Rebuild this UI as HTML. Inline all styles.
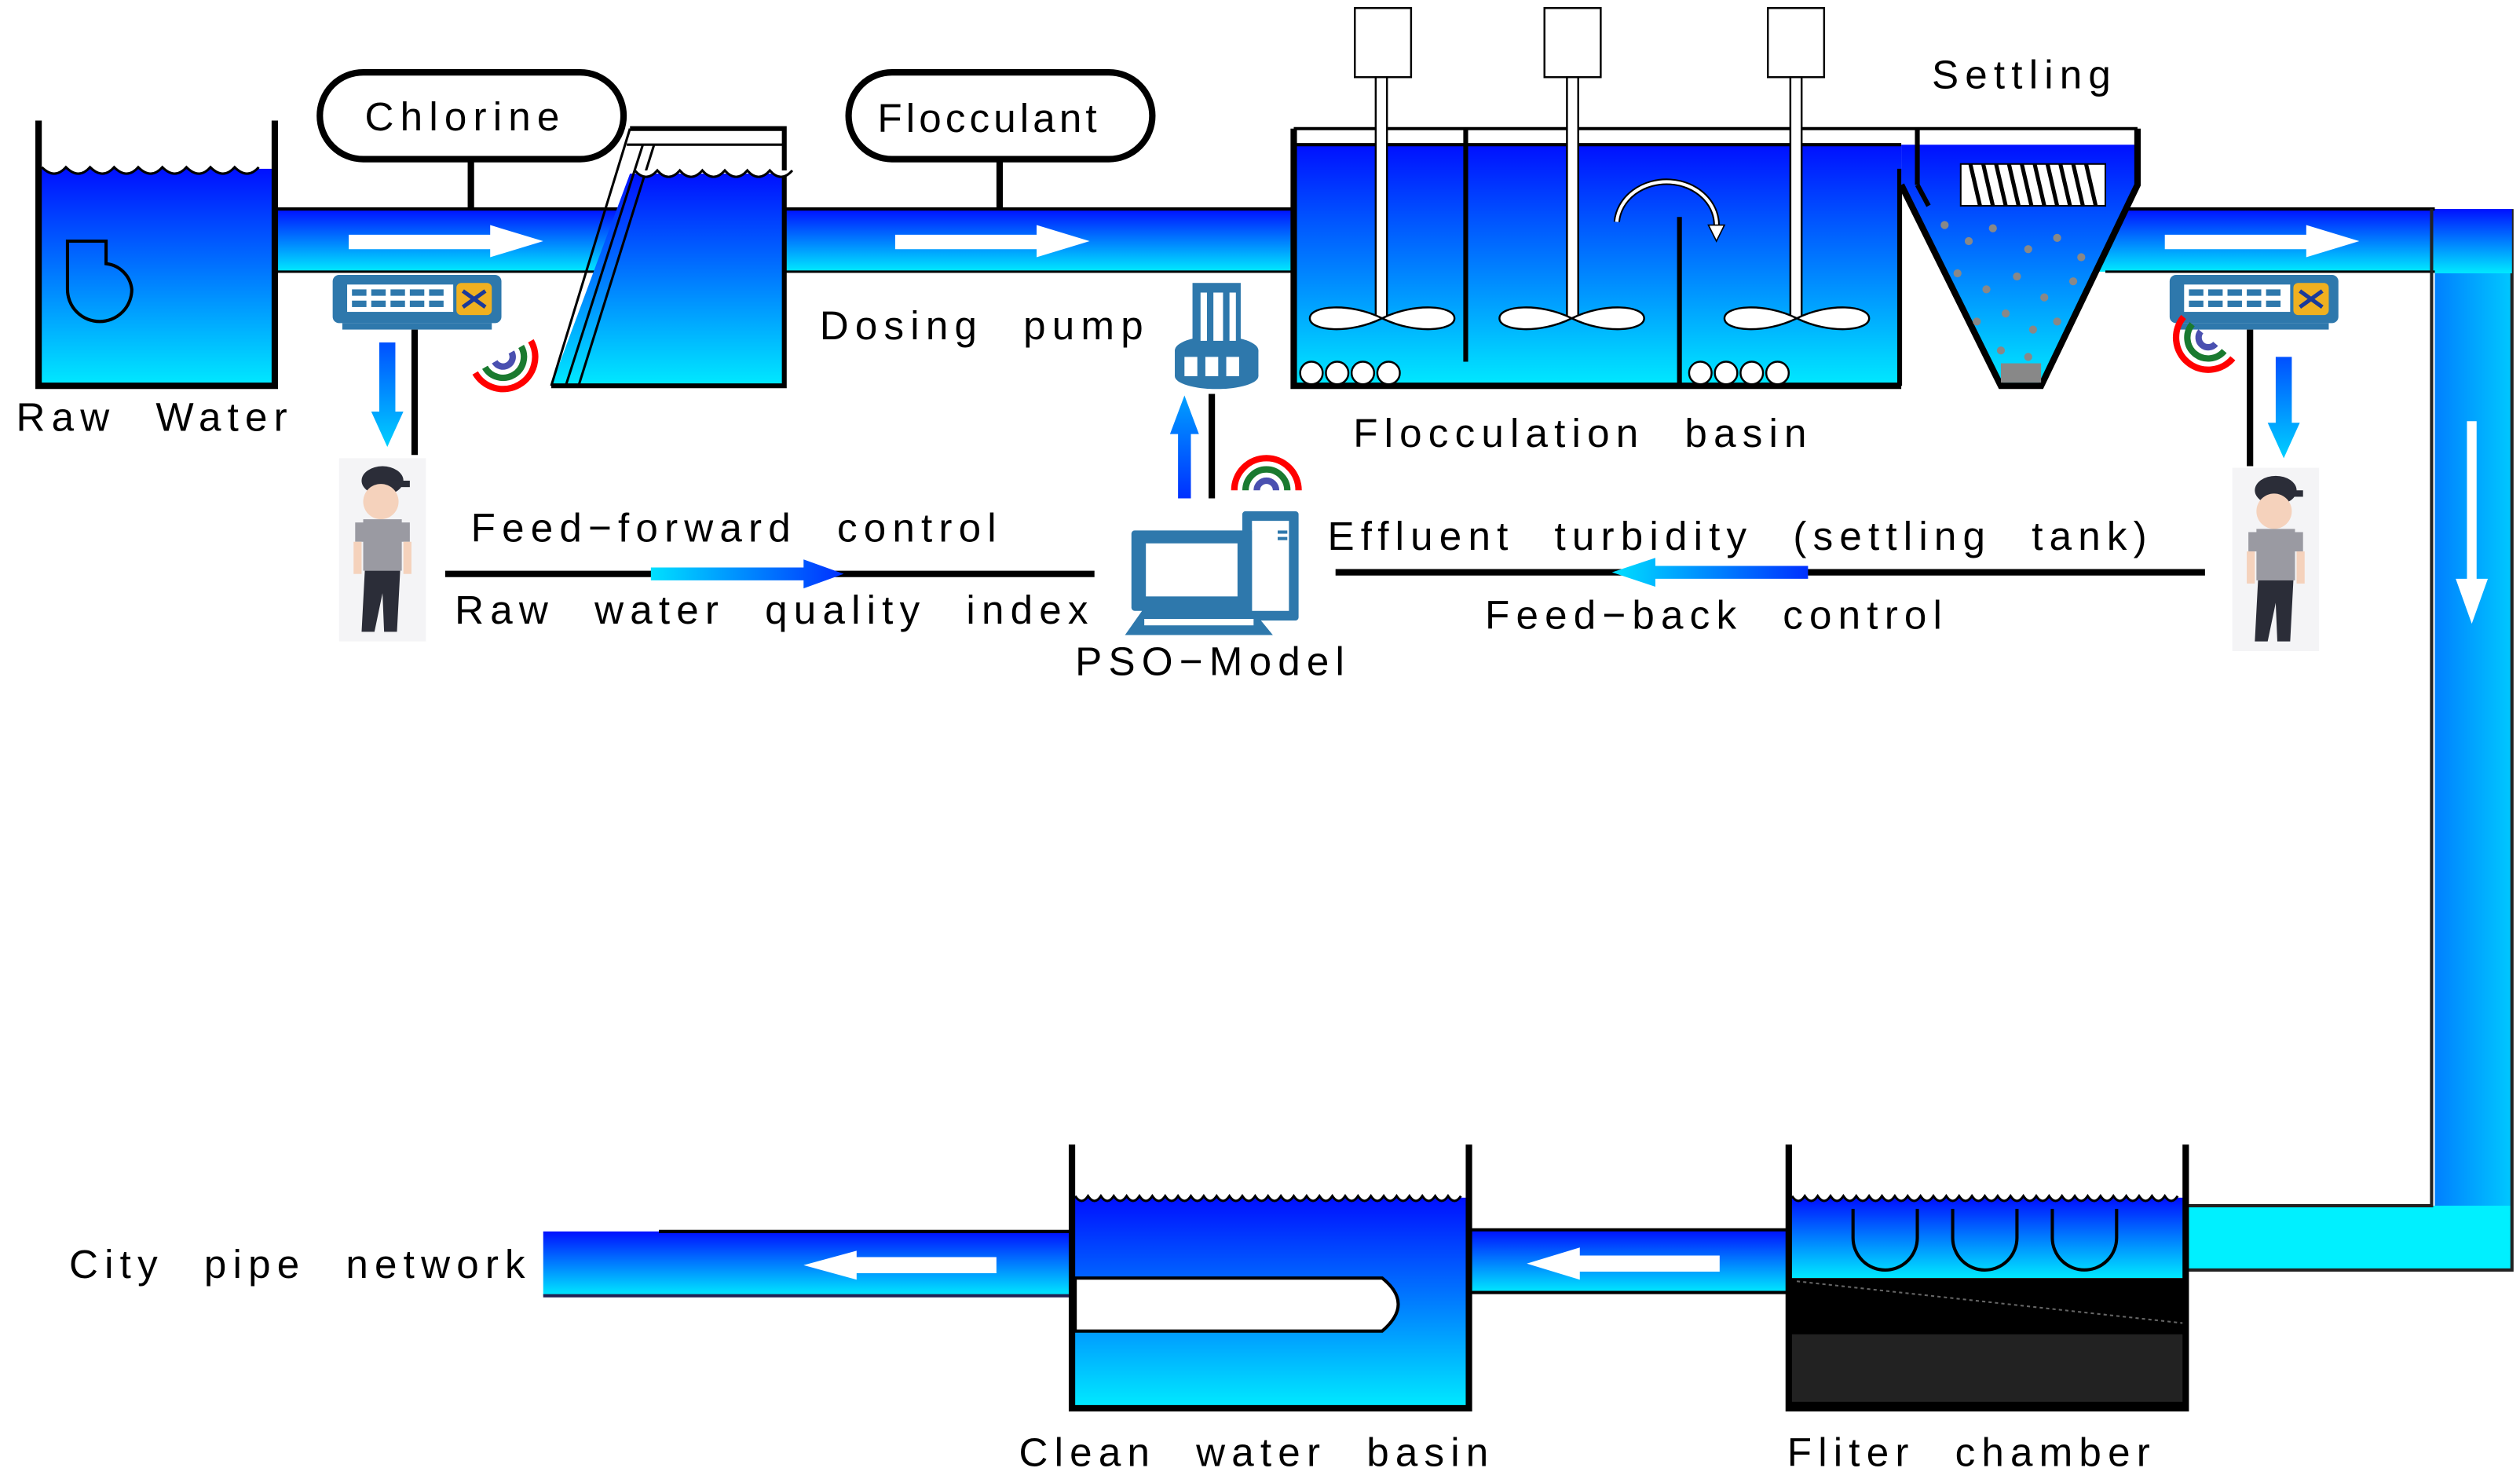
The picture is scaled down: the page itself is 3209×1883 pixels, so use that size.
<!DOCTYPE html>
<html><head><meta charset="utf-8"><style>
html,body{margin:0;padding:0;background:#fff;}
svg{display:block;}
text{font-family:"Liberation Sans",sans-serif;font-size:25px;fill:#000;letter-spacing:4px;word-spacing:14px;}
</style></head><body>
<svg width="3209" height="1883" viewBox="0 0 1568 920" preserveAspectRatio="none" xmlns="http://www.w3.org/2000/svg">
<defs>
<linearGradient id="w" x1="0" y1="0" x2="0" y2="1"><stop offset="0" stop-color="#0010ff"/><stop offset="1" stop-color="#00eaff"/></linearGradient>
<linearGradient id="wh" x1="0" y1="0" x2="1" y2="0"><stop offset="0" stop-color="#00e0ff"/><stop offset="1" stop-color="#0030ff"/></linearGradient>
<linearGradient id="wv" x1="0" y1="0" x2="1" y2="0"><stop offset="0" stop-color="#0080ff"/><stop offset="1" stop-color="#00c8ff"/></linearGradient>
<linearGradient id="aup" x1="0" y1="1" x2="0" y2="0"><stop offset="0" stop-color="#0030ff"/><stop offset="1" stop-color="#00a0ff"/></linearGradient>
<linearGradient id="adn" x1="0" y1="0" x2="0" y2="1"><stop offset="0" stop-color="#0050ff"/><stop offset="1" stop-color="#00d0ff"/></linearGradient>
<g id="sw"><rect x="0" y="0" width="105" height="30" rx="4" fill="#2e78ac"/><rect x="6" y="30" width="93" height="4" fill="#2e78ac"/><rect x="9" y="6" width="66" height="17" fill="#fff"/><g fill="#2e78ac"><rect x="12" y="9" width="9" height="4"/><rect x="24" y="9" width="9" height="4"/><rect x="36" y="9" width="9" height="4"/><rect x="48" y="9" width="9" height="4"/><rect x="60" y="9" width="9" height="4"/><rect x="12" y="16" width="9" height="4"/><rect x="24" y="16" width="9" height="4"/><rect x="36" y="16" width="9" height="4"/><rect x="48" y="16" width="9" height="4"/><rect x="60" y="16" width="9" height="4"/></g><rect x="77" y="5" width="22" height="20" rx="3" fill="#f0b020"/><path d="M81 10 L95 20 M81 20 L95 10" stroke="#1a3a9a" stroke-width="2.5"/></g>
<g id="man"><rect x="0" y="0" width="54" height="114" fill="#f4f4f6"/><ellipse cx="27" cy="14" rx="13" ry="9" fill="#2b2d38"/><rect x="30" y="14" width="14" height="4" fill="#2b2d38"/><ellipse cx="26" cy="27" rx="11" ry="11" fill="#f5d2bc"/><rect x="15" y="38" width="24" height="32" fill="#9a9aa2"/><rect x="10" y="40" width="8" height="12" fill="#9a9aa2"/><rect x="36" y="40" width="8" height="12" fill="#9a9aa2"/><rect x="9" y="52" width="5" height="20" fill="#f5d2bc"/><rect x="40" y="52" width="5" height="20" fill="#f5d2bc"/><path d="M16 70 L38 70 L36 108 L28 108 L27 84 L22 108 L14 108 Z" fill="#2b2d38"/></g>
<g id="wifi" fill="none" stroke-width="4"><path d="M-20 0 A20 20 0 0 1 20 0" stroke="#f00"/><path d="M-13 0 A13 13 0 0 1 13 0" stroke="#1a7a30"/><path d="M-6 0 A6 6 0 0 1 6 0" stroke="#4a50b0"/></g>
</defs>

<rect x="171" y="130" width="640" height="39" fill="url(#w)"/>
<line x1="171" y1="130" x2="811" y2="130" stroke="#000" stroke-width="2"/>
<line x1="171" y1="169" x2="811" y2="169" stroke="#000" stroke-width="1.5"/>
<rect x="1300" y="130" width="215" height="39" fill="url(#w)"/>
<line x1="1300" y1="130" x2="1515" y2="130" stroke="#000" stroke-width="2"/>
<line x1="1310" y1="169" x2="1515" y2="169" stroke="#000" stroke-width="1.5"/>
<rect x="1515" y="130" width="48" height="660" fill="url(#wv)"/>
<rect x="1360" y="750" width="203" height="40" fill="#00f0ff"/>
<path d="M1513 130 L1513 750 L1360 750" stroke="#222" stroke-width="2" fill="none"/>
<path d="M1563 130 L1563 790 L1360 790" stroke="#222" stroke-width="2" fill="none"/>
<rect x="1515" y="130" width="48" height="40" fill="url(#w)"/>
<path d="M1535 262 L1541 262 L1541 360 L1548 360 L1538 388 L1528 360 L1535 360 Z" fill="#fff"/>

<rect x="24" y="105" width="147" height="135" fill="url(#w)"/>
<path d="M24 75 L24 240 L171 240 L171 75" stroke="#000" stroke-width="4" fill="none"/>
<path d="M26 104 q8 8 15 0 q8 8 15 0 q8 8 15 0 q8 8 15 0 q8 8 15 0 q8 8 15 0 q8 8 15 0 q8 8 15 0 q8 8 15 0" stroke="#000" stroke-width="1.5" fill="#fff"/>
<path d="M42 150 L42 180 A20 20 0 0 0 82 180 A18 18 0 0 0 66 164 L66 150 Z" fill="none" stroke="#000" stroke-width="2"/>

<path d="M343 240 L392 108 L488 108 L488 240 Z" fill="url(#w)"/>
<path d="M392 80 L488 80 L488 240 L343 240" stroke="#000" stroke-width="3" fill="none"/>
<line x1="390" y1="90" x2="488" y2="90" stroke="#000" stroke-width="1.5"/>
<path d="M392 80 L343 240 M400 90 L352 240 M407 90 L360 240" stroke="#000" stroke-width="1.5" fill="none"/>
<path d="M395 106 q7 8 14 0 q7 8 14 0 q7 8 14 0 q7 8 14 0 q7 8 14 0 q7 8 14 0 q7 8 14 0" stroke="#000" stroke-width="1.5" fill="#fff"/>

<rect x="199" y="45" width="189" height="54" rx="27" fill="#fff" stroke="#000" stroke-width="4"/>
<line x1="293" y1="99" x2="293" y2="130" stroke="#000" stroke-width="4"/>
<text x="227" y="81">Chlorine</text>
<rect x="528" y="45" width="189" height="54" rx="27" fill="#fff" stroke="#000" stroke-width="4"/>
<line x1="622" y1="99" x2="622" y2="130" stroke="#000" stroke-width="4"/>
<text x="546" y="82" style="letter-spacing:2.5px">Flocculant</text>

<path d="M217 146 L305 146 L305 140 L338 150 L305 160 L305 155 L217 155 Z" fill="#fff"/>
<path d="M557 146 L645 146 L645 140 L678 150 L645 160 L645 155 L557 155 Z" fill="#fff"/>
<path d="M1347 146 L1435 146 L1435 140 L1468 150 L1435 160 L1435 155 L1347 155 Z" fill="#fff"/>

<rect x="805" y="90" width="378" height="150" fill="url(#w)"/>
<path d="M805 80 L805 240 L1183 240" stroke="#000" stroke-width="4" fill="none"/>
<line x1="805" y1="80" x2="1330" y2="80" stroke="#000" stroke-width="2"/>
<line x1="805" y1="90" x2="1183" y2="90" stroke="#000" stroke-width="2"/>
<line x1="912" y1="80" x2="912" y2="225" stroke="#000" stroke-width="3"/>
<line x1="1045" y1="135" x2="1045" y2="240" stroke="#000" stroke-width="3"/>
<line x1="1182" y1="105" x2="1182" y2="240" stroke="#000" stroke-width="3"/>
<path d="M1006 138 A30 26 0 0 1 1068 142" stroke="#000" stroke-width="4" fill="none"/>
<path d="M1006 138 A30 26 0 0 1 1068 142" stroke="#fff" stroke-width="2" fill="none"/>
<path d="M1063 140 L1073 140 L1068 150 Z" fill="#fff" stroke="#000" stroke-width="0.8"/>
<g stroke="#000" stroke-width="1.2" fill="#fff">
<rect x="843" y="5" width="35" height="43"/><rect x="961" y="5" width="35" height="43"/><rect x="1100" y="5" width="35" height="43"/>
<rect x="856" y="48" width="7" height="150"/><rect x="975" y="48" width="7" height="150"/><rect x="1114" y="48" width="7" height="150"/>
<path d="M860 198 C840 188 815 190 815 198 C815 206 840 208 860 198 C880 188 905 190 905 198 C905 206 880 208 860 198 Z"/>
<path d="M978 198 C958 188 933 190 933 198 C933 206 958 208 978 198 C998 188 1023 190 1023 198 C1023 206 998 208 978 198 Z"/>
<path d="M1118 198 C1098 188 1073 190 1073 198 C1073 206 1098 208 1118 198 C1138 188 1163 190 1163 198 C1163 206 1138 208 1118 198 Z"/>
<circle cx="816" cy="232" r="7"/><circle cx="832" cy="232" r="7"/><circle cx="848" cy="232" r="7"/><circle cx="864" cy="232" r="7"/>
<circle cx="1058" cy="232" r="7"/><circle cx="1074" cy="232" r="7"/><circle cx="1090" cy="232" r="7"/><circle cx="1106" cy="232" r="7"/>
</g>

<path d="M1183 90 L1330 90 L1330 115 L1270 240 L1245 240 L1183 115 Z" fill="url(#w)"/>
<path d="M1183 115 L1245 240 L1270 240 L1330 115 L1330 80" stroke="#000" stroke-width="4" fill="none"/>
<line x1="1193" y1="80" x2="1193" y2="115" stroke="#000" stroke-width="3"/>
<line x1="1193" y1="115" x2="1200" y2="128" stroke="#000" stroke-width="3"/>
<rect x="1220" y="102" width="90" height="26" fill="#fff" stroke="#000"/>
<g stroke="#000" stroke-width="2.5"><path d="M1226 102 l6 26 M1234 102 l6 26 M1242 102 l6 26 M1250 102 l6 26 M1258 102 l6 26 M1266 102 l6 26 M1274 102 l6 26 M1282 102 l6 26 M1290 102 l6 26 M1298 102 l6 26"/></g>
<g fill="#888"><circle cx="1210" cy="140" r="2.5"/><circle cx="1225" cy="150" r="2.5"/><circle cx="1240" cy="142" r="2.5"/><circle cx="1262" cy="155" r="2.5"/><circle cx="1280" cy="148" r="2.5"/><circle cx="1295" cy="160" r="2.5"/><circle cx="1218" cy="170" r="2.5"/><circle cx="1236" cy="180" r="2.5"/><circle cx="1255" cy="172" r="2.5"/><circle cx="1272" cy="185" r="2.5"/><circle cx="1290" cy="175" r="2.5"/><circle cx="1230" cy="200" r="2.5"/><circle cx="1248" cy="195" r="2.5"/><circle cx="1265" cy="205" r="2.5"/><circle cx="1280" cy="200" r="2.5"/><circle cx="1245" cy="218" r="2.5"/><circle cx="1262" cy="222" r="2.5"/><rect x="1245" y="226" width="25" height="12"/></g>

<text x="10" y="268">Raw Water</text>
<text x="510" y="211">Dosing pump</text>
<text x="842" y="278">Flocculation basin</text>
<text x="1202" y="55">Settling</text>
<text x="293" y="337">Feed−forward control</text>
<text x="283" y="388">Raw water quality index</text>
<text x="669" y="420">PSO−Model</text>
<text x="826" y="342">Effluent turbidity (settling tank)</text>
<text x="924" y="391">Feed−back control</text>
<text x="43" y="795">City pipe network</text>
<text x="634" y="912">Clean water basin</text>
<text x="1112" y="912">Fliter chamber</text>

<use href="#sw" x="207" y="171"/>
<use href="#sw" x="1350" y="171"/>
<line x1="258" y1="205" x2="258" y2="283" stroke="#000" stroke-width="4"/>
<line x1="1400" y1="205" x2="1400" y2="290" stroke="#000" stroke-width="4"/>
<path d="M236 213 L246 213 L246 256 L251 256 L241 278 L231 256 L236 256 Z" fill="url(#adn)"/>
<path d="M1416 222 L1426 222 L1426 263 L1431 263 L1421 285 L1411 263 L1416 263 Z" fill="url(#adn)"/>
<use href="#wifi" transform="translate(313 222) rotate(150)"/>
<use href="#wifi" transform="translate(1374 210) rotate(-140)"/>
<use href="#wifi" transform="translate(788 305)"/>

<use href="#man" x="211" y="285"/>
<use href="#man" x="1389" y="291"/>

<line x1="277" y1="357" x2="681" y2="357" stroke="#000" stroke-width="4"/>
<path d="M405 353 L500 353 L500 348 L525 357 L500 366 L500 361 L405 361 Z" fill="url(#wh)"/>
<line x1="831" y1="356" x2="1372" y2="356" stroke="#000" stroke-width="4"/>
<path d="M1125 352 L1030 352 L1030 347 L1003 356 L1030 365 L1030 360 L1125 360 Z" fill="url(#wh)"/>

<g fill="#2e78ac">
<rect x="742" y="176" width="30" height="38"/>
<ellipse cx="757" cy="218" rx="26" ry="9"/>
<rect x="731" y="218" width="52" height="16"/>
<ellipse cx="757" cy="234" rx="26" ry="8"/>
</g>
<g fill="#fff"><rect x="747" y="182" width="4" height="30"/><rect x="755" y="182" width="6" height="30"/><rect x="765" y="182" width="4" height="30"/><rect x="737" y="222" width="8" height="12"/><rect x="750" y="222" width="8" height="12"/><rect x="763" y="222" width="8" height="12"/></g>
<line x1="754" y1="245" x2="754" y2="310" stroke="#000" stroke-width="4"/>
<path d="M733 310 L741 310 L741 270 L746 270 L737 246 L728 270 L733 270 Z" fill="url(#aup)"/>

<g fill="#2e78ac">
<rect x="773" y="318" width="35" height="68" rx="2"/>
<rect x="704" y="330" width="75" height="50" rx="2"/>
<path d="M712 378 L778 378 L792 395 L700 395 Z"/>
</g>
<rect x="779" y="324" width="23" height="56" fill="#fff"/>
<rect x="775" y="330" width="4" height="50" fill="#2e78ac"/>
<rect x="795" y="330" width="6" height="2" fill="#2e78ac"/><rect x="795" y="334" width="6" height="2" fill="#2e78ac"/>
<rect x="713" y="338" width="57" height="33" fill="#fff"/>
<rect x="712" y="385" width="68" height="4" fill="#fff"/>

<rect x="338" y="766" width="330" height="40" fill="url(#w)"/>
<line x1="338" y1="806" x2="668" y2="806" stroke="#225" stroke-width="2"/>
<line x1="410" y1="766" x2="668" y2="766" stroke="#000" stroke-width="2"/>
<path d="M620 782 L533 782 L533 778 L500 787 L533 796 L533 792 L620 792 Z" fill="#fff"/>
<rect x="914" y="765" width="200" height="39" fill="url(#w)"/>
<line x1="914" y1="765" x2="1114" y2="765" stroke="#000" stroke-width="2"/>
<line x1="914" y1="804" x2="1114" y2="804" stroke="#000" stroke-width="2"/>
<path d="M1070 781 L983 781 L983 776 L950 786 L983 796 L983 791 L1070 791 Z" fill="#fff"/>

<rect x="667" y="745" width="247" height="130" fill="url(#w)"/>
<path d="M667 712 L667 876 L914 876 L914 712" stroke="#000" stroke-width="4" fill="none"/>
<path d="M669 744 q4 6 8 0 q4 6 8 0 q4 6 8 0 q4 6 8 0 q4 6 8 0 q4 6 8 0 q4 6 8 0 q4 6 8 0 q4 6 8 0 q4 6 8 0 q4 6 8 0 q4 6 8 0 q4 6 8 0 q4 6 8 0 q4 6 8 0 q4 6 8 0 q4 6 8 0 q4 6 8 0 q4 6 8 0 q4 6 8 0 q4 6 8 0 q4 6 8 0 q4 6 8 0 q4 6 8 0 q4 6 8 0 q4 6 8 0 q4 6 8 0 q4 6 8 0 q4 6 8 0 q4 6 8 0" stroke="#000" stroke-width="1.5" fill="#fff"/>
<path d="M669 795 L860 795 Q880 811 860 828 L669 828 Z" fill="#fff" stroke="#000" stroke-width="2"/>

<rect x="1113" y="745" width="247" height="50" fill="url(#w)"/>
<rect x="1113" y="795" width="247" height="80" fill="#000"/>
<path d="M1113 712 L1113 876 L1360 876 L1360 712" stroke="#000" stroke-width="4" fill="none"/>
<path d="M1115 744 q4 6 8 0 q4 6 8 0 q4 6 8 0 q4 6 8 0 q4 6 8 0 q4 6 8 0 q4 6 8 0 q4 6 8 0 q4 6 8 0 q4 6 8 0 q4 6 8 0 q4 6 8 0 q4 6 8 0 q4 6 8 0 q4 6 8 0 q4 6 8 0 q4 6 8 0 q4 6 8 0 q4 6 8 0 q4 6 8 0 q4 6 8 0 q4 6 8 0 q4 6 8 0 q4 6 8 0 q4 6 8 0 q4 6 8 0 q4 6 8 0 q4 6 8 0 q4 6 8 0 q4 6 8 0" stroke="#000" stroke-width="1.5" fill="#fff"/>
<g stroke="#000" stroke-width="2" fill="none"><path d="M1153 752 L1153 770 A20 20 0 0 0 1193 770 L1193 752"/><path d="M1215 752 L1215 770 A20 20 0 0 0 1255 770 L1255 752"/><path d="M1277 752 L1277 770 A20 20 0 0 0 1317 770 L1317 752"/></g>
<line x1="1118" y1="797" x2="1358" y2="823" stroke="#666" stroke-width="1" stroke-dasharray="2 2"/>
<rect x="1115" y="830" width="243" height="42" fill="#222"/>
</svg>
</body></html>
